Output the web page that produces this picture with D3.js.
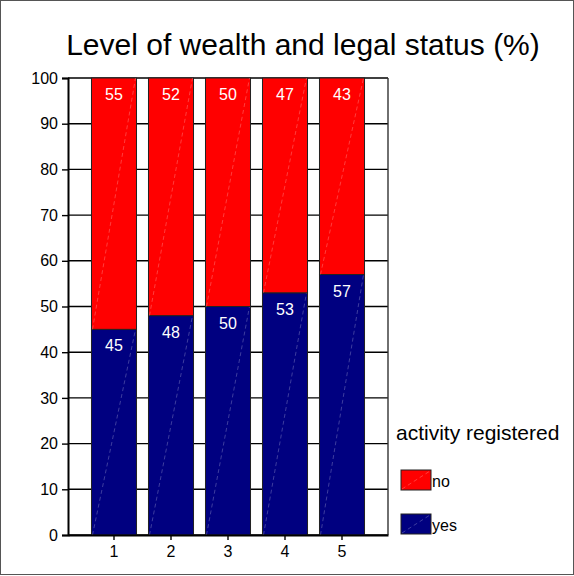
<!DOCTYPE html>
<html>
<head>
<meta charset="utf-8">
<script src="https://cdn.jsdelivr.net/npm/d3@7"></script>
<style>
  html, body { margin: 0; padding: 0; background: #fff; }
  svg { display: block; font-family: "Liberation Sans", Arial, sans-serif; }
</style>
</head>
<body>
<svg id="chart" width="574" height="576"></svg>
<script>
// Share of businesses with registered activity, by wealth level
const categories = ["1", "2", "3", "4", "5"];
const yesValues = [45, 48, 50, 53, 57];
const noValues = [55, 52, 50, 47, 43];
const yTicks = [0, 10, 20, 30, 40, 50, 60, 70, 80, 90, 100];
const seriesNames = ["no", "yes"];
const seriesColors = { yes: "#000080", no: "#ff0000" };

const svg = d3.select("#chart");
const W = 574, H = 576;
const plot = { left: 68, right: 388, top: 78, bottom: 535 };

// frame around the whole figure
svg.append("rect")
  .attr("x", 0.5).attr("y", 0.5).attr("width", W - 1).attr("height", H - 2)
  .attr("fill", "#fff").attr("stroke", "#555").attr("stroke-width", 1);

svg.append("text")
  .attr("x", 303).attr("y", 55)
  .attr("text-anchor", "middle")
  .attr("font-size", 30)
  .attr("fill", "#000")
  .text("Level of wealth and legal status (%)");

const x = d3.scaleBand()
  .domain(categories)
  .range([plot.left, plot.right])
  .paddingInner(0.21)
  .paddingOuter(0.412);

const y = d3.scaleLinear().domain([0, 100]).range([plot.bottom, plot.top]);

// horizontal grid
svg.append("g")
  .selectAll("line")
  .data(yTicks)
  .join("line")
  .attr("x1", plot.left).attr("x2", plot.right)
  .attr("y1", d => y(d)).attr("y2", d => y(d))
  .attr("stroke", "#000").attr("stroke-width", 1.4);

// right border of plot area
svg.append("line")
  .attr("x1", plot.right).attr("x2", plot.right)
  .attr("y1", plot.top).attr("y2", plot.bottom)
  .attr("stroke", "#333").attr("stroke-width", 1.4);

const rows = categories.map((c, i) => ({ cat: c, yes: yesValues[i], no: noValues[i] }));
const stack = d3.stack().keys(["yes", "no"])(rows);

const layers = svg.append("g")
  .selectAll("g")
  .data(stack)
  .join("g");

layers.selectAll("rect")
  .data(d => d.map(p => ({ key: d.key, p })))
  .join("rect")
  .attr("x", d => x(d.p.data.cat))
  .attr("width", x.bandwidth())
  .attr("y", d => y(d.p[1]))
  .attr("height", d => y(d.p[0]) - y(d.p[1]))
  .attr("fill", d => seriesColors[d.key])
  .attr("stroke", "#222").attr("stroke-width", 1);

// faint diagonal sheen across each segment
layers.selectAll("line")
  .data(d => d.map(p => ({ key: d.key, p })))
  .join("line")
  .attr("x1", d => x(d.p.data.cat) + 1)
  .attr("y1", d => y(d.p[0]))
  .attr("x2", d => x(d.p.data.cat) + x.bandwidth() - 1)
  .attr("y2", d => y(d.p[1]))
  .attr("stroke", "#fff").attr("stroke-opacity", 0.3)
  .attr("stroke-width", 0.8).attr("stroke-dasharray", "4,3");

// value labels near top of each segment
layers.selectAll("text")
  .data(d => d.map(p => ({ key: d.key, p })))
  .join("text")
  .attr("x", d => x(d.p.data.cat) + x.bandwidth() / 2)
  .attr("y", d => y(d.p[1]) + 22)
  .attr("text-anchor", "middle")
  .attr("font-size", 16)
  .attr("fill", "#fff")
  .text(d => d.p.data[d.key]);

// y axis
const yAxis = svg.append("g")
  .attr("transform", `translate(${plot.left},0)`)
  .call(d3.axisLeft(y).tickValues(yTicks).tickSize(6).tickPadding(4));
yAxis.select(".domain").attr("stroke", "#000").attr("stroke-width", 2);
yAxis.selectAll(".tick line").attr("stroke", "#000").attr("stroke-width", 1.4);
yAxis.selectAll("text").attr("font-size", 16).attr("fill", "#000")
  .attr("font-family", "Liberation Sans, Arial, sans-serif");

// x axis
const xAxis = svg.append("g")
  .attr("transform", `translate(0,${plot.bottom})`)
  .call(d3.axisBottom(x).tickSize(5).tickPadding(6).tickSizeOuter(0));
xAxis.select(".domain").attr("stroke", "#000").attr("stroke-width", 2);
xAxis.selectAll(".tick line").attr("stroke", "#000").attr("stroke-width", 1.4);
xAxis.selectAll("text").attr("font-size", 16).attr("fill", "#000")
  .attr("font-family", "Liberation Sans, Arial, sans-serif");

// legend
const legend = svg.append("g");
legend.append("text")
  .attr("x", 396).attr("y", 440)
  .attr("font-size", 21).attr("fill", "#000")
  .text("activity registered");

const legendY = { no: 470, yes: 514 };
seriesNames.forEach(name => {
  const ly = legendY[name];
  legend.append("rect")
    .attr("x", 401).attr("y", ly).attr("width", 30).attr("height", 20)
    .attr("fill", seriesColors[name]).attr("stroke", "#222").attr("stroke-width", 1);
  legend.append("line")
    .attr("x1", 402).attr("y1", ly + 19).attr("x2", 430).attr("y2", ly + 1)
    .attr("stroke", "#fff").attr("stroke-opacity", 0.3)
    .attr("stroke-width", 0.8).attr("stroke-dasharray", "4,3");
  legend.append("text")
    .attr("x", 432).attr("y", ly + 17)
    .attr("font-size", 16).attr("fill", "#000")
    .text(name);
});
</script>
</body>
</html>
